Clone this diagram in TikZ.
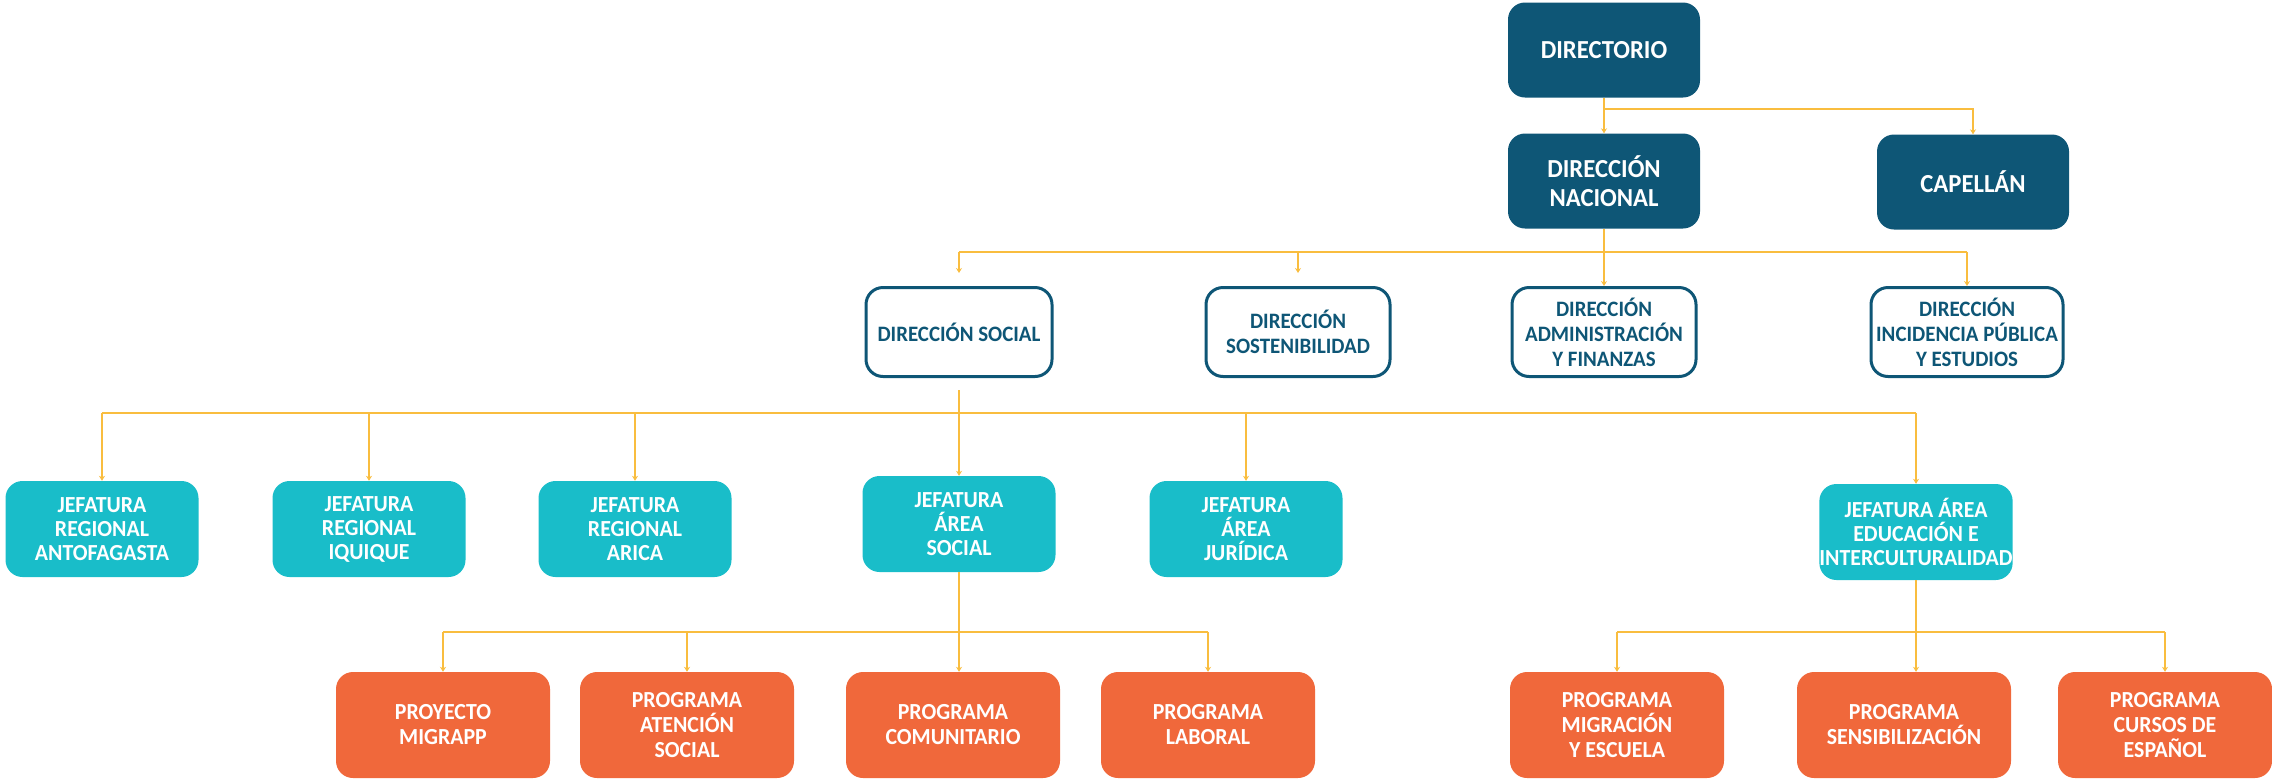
\documentclass[tikz,border=0pt]{standalone}
\usepackage{fontspec}
\setmainfont{Carlito}[FakeStretch=0.95]
\usetikzlibrary{arrows.meta}
\definecolor{cNavy}{HTML}{0E5676}
\definecolor{cCyan}{HTML}{19BDC9}
\definecolor{cOrange}{HTML}{F0683B}
\definecolor{cLine}{HTML}{F9BD3F}
\begin{document}
\begin{tikzpicture}[x=1pt,y=-1pt,
 base/.style={rounded corners=17pt, align=center, inner sep=0pt, font=\bfseries\fontsize{23}{24}\selectfont},
 navybox/.style={base, fill=cNavy, text=white, minimum width=192pt, minimum height=95pt, font=\bfseries\fontsize{26}{29}\selectfont},
 whitebox/.style={base, draw=cNavy, line width=3pt, fill=white, text=cNavy, minimum width=184pt, minimum height=89pt, font=\bfseries\fontsize{22}{25}\selectfont},
 cyanbox/.style={base, fill=cCyan, text=white, minimum width=193pt, minimum height=96pt},
 orangebox/.style={base, fill=cOrange, text=white, minimum width=214pt, minimum height=106pt, font=\bfseries\fontsize{23}{25}\selectfont},
 conn/.style={draw=cLine, line width=2.5pt, -{Stealth[length=5pt,width=6pt]}},
 bus/.style={draw=cLine, line width=2.5pt}
]
\useasboundingbox (0,0) rectangle (2272,780);
% level 0/1
\node[navybox] (dir) at (1604,50) {DIRECTORIO};
\node[navybox] (dn) at (1604,181) {DIRECCIÓN\\NACIONAL};
\node[navybox] (cap) at (1973,182) {CAPELLÁN};
% level 2
\node[whitebox, minimum width=186pt] (ds) at (959,332) {DIRECCIÓN SOCIAL};
\node[whitebox] (dsos) at (1298,332) {DIRECCIÓN\\SOSTENIBILIDAD};
\node[whitebox] (daf) at (1604,332) {DIRECCIÓN\\ADMINISTRACIÓN\\Y FINANZAS};
\node[whitebox, minimum width=192pt] (dipe) at (1967,332) {DIRECCIÓN\\INCIDENCIA PÚBLICA\\Y ESTUDIOS};
% level 3
\node[cyanbox] (jra) at (102,529) {JEFATURA\\REGIONAL\\ANTOFAGASTA};
\node[cyanbox] (jri) at (369,529) {JEFATURA\\REGIONAL\\IQUIQUE};
\node[cyanbox] (jrar) at (635,529) {JEFATURA\\REGIONAL\\ARICA};
\node[cyanbox] (jas) at (959,524) {JEFATURA\\ÁREA\\SOCIAL};
\node[cyanbox] (jaj) at (1246,529) {JEFATURA\\ÁREA\\JURÍDICA};
\node[cyanbox] (jaei) at (1916,532) {JEFATURA ÁREA\\EDUCACIÓN E\\INTERCULTURALIDAD};
% level 4
\node[orangebox] (pm) at (443,725) {PROYECTO\\MIGRAPP};
\node[orangebox] (pas) at (687,725) {PROGRAMA\\ATENCIÓN\\SOCIAL};
\node[orangebox] (pc) at (953,725) {PROGRAMA\\COMUNITARIO};
\node[orangebox] (pl) at (1208,725) {PROGRAMA\\LABORAL};
\node[orangebox] (pme) at (1617,725) {PROGRAMA\\MIGRACIÓN\\Y ESCUELA};
\node[orangebox] (ps) at (1904,725) {PROGRAMA\\SENSIBILIZACIÓN};
\node[orangebox] (pce) at (2165,725) {PROGRAMA\\CURSOS DE\\ESPAÑOL};
% buses
\coordinate (b1) at (0,109);
\coordinate (b2) at (0,252);
\coordinate (b3) at (0,413);
\coordinate (b4) at (0,632);
% level 0 -> 1
\draw[bus] (dir.south) -- (dir.south |- b1);
\draw[conn] (dir.south |- b1) -- (dn.north);
\draw[conn] (dir.south |- b1) -| (cap.north);
% level 1 -> 2
\draw[bus] (dn.south) -- (dn.south |- b2);
\draw[bus] (ds.north |- b2) -- (dipe.north |- b2);
\draw[conn, shorten >=13pt] (ds.north |- b2) -- (ds.north);
\draw[conn, shorten >=13pt] (dsos.north |- b2) -- (dsos.north);
\draw[conn] (daf.north |- b2) -- (daf.north);
\draw[conn] (dipe.north |- b2) -- (dipe.north);
% level 2 -> 3
\draw[bus, shorten <=12pt] (ds.south) -- (ds.south |- b3);
\draw[bus] (jra.north |- b3) -- (jaei.north |- b3);
\foreach \n in {jra,jri,jrar,jas,jaj,jaei} \draw[conn] (\n.north |- b3) -- (\n.north);
% level 3 -> 4 (social)
\draw[bus] (jas.south) -- (jas.south |- b4);
\draw[bus] (pm.north |- b4) -- (pl.north |- b4);
\draw[conn] (jas.south |- b4) -- (jas.south |- pc.north);
\foreach \n in {pm,pas,pl} \draw[conn] (\n.north |- b4) -- (\n.north);
% level 3 -> 4 (educacion)
\draw[bus] (jaei.south) -- (jaei.south |- b4);
\draw[bus] (pme.north |- b4) -- (pce.north |- b4);
\draw[conn] (jaei.south |- b4) -- (jaei.south |- ps.north);
\foreach \n in {pme,pce} \draw[conn] (\n.north |- b4) -- (\n.north);
\end{tikzpicture}
\end{document}
